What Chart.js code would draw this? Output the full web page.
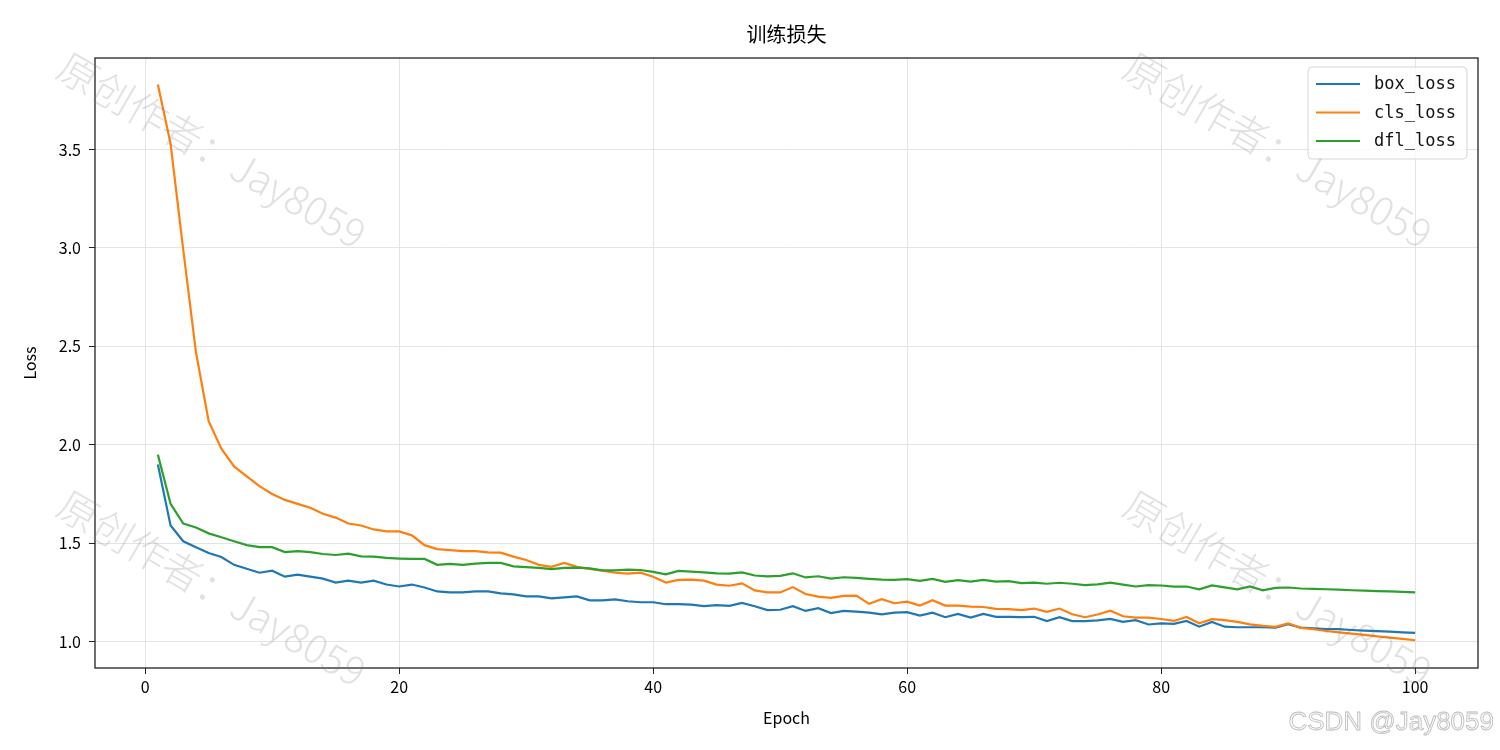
<!DOCTYPE html>
<html>
<head>
<meta charset="utf-8">
<script src="https://cdn.jsdelivr.net/npm/chart.js@4.4.1/dist/chart.umd.min.js"></script>
<style>
  body { margin: 0; background: #fff; }
  #wrap { width: 1500px; height: 750px; }
</style>
</head>
<body>
<div id="wrap"><canvas id="chart" width="1500" height="750"></canvas></div>
<script>
// epochs 1..100
const epochs = Array.from({ length: 100 }, (_, i) => i + 1);

const seriesNames = ['box_loss', 'cls_loss', 'dfl_loss'];
const seriesColors = ['#1f77b4', '#ff7f0e', '#2ca02c'];

const boxLoss = [
    1.90, 1.59, 1.51, 1.48, 1.45, 1.43, 1.39, 1.37, 1.35, 1.36,
    1.33, 1.34, 1.33, 1.32, 1.30, 1.31, 1.30, 1.31, 1.29, 1.28,
    1.29, 1.275, 1.255, 1.25, 1.25, 1.255, 1.255, 1.245, 1.24, 1.23,
    1.23, 1.22, 1.225, 1.23, 1.21, 1.21, 1.215, 1.205, 1.20, 1.20,
    1.19, 1.19, 1.188, 1.18, 1.185, 1.182, 1.197, 1.18, 1.16, 1.162,
    1.18, 1.156, 1.17, 1.145, 1.156, 1.152, 1.147, 1.138, 1.147, 1.15,
    1.132, 1.147, 1.124, 1.141, 1.122, 1.141, 1.126, 1.126, 1.124, 1.126,
    1.104, 1.124, 1.104, 1.104, 1.108, 1.115, 1.10, 1.109, 1.087, 1.093,
    1.090, 1.105, 1.076, 1.100, 1.076, 1.073, 1.073, 1.073, 1.071, 1.088,
    1.071, 1.068, 1.064, 1.063, 1.059, 1.056, 1.053, 1.051, 1.047, 1.044
];
const clsLoss = [
    3.83, 3.53, 2.99, 2.47, 2.12, 1.98, 1.89, 1.84, 1.79, 1.75,
    1.72, 1.70, 1.68, 1.65, 1.63, 1.60, 1.59, 1.57, 1.56, 1.56,
    1.54, 1.49, 1.47, 1.465, 1.46, 1.46, 1.453, 1.452, 1.432, 1.415,
    1.39, 1.38, 1.40, 1.38, 1.37, 1.36, 1.35, 1.345, 1.35, 1.33,
    1.30, 1.314, 1.315, 1.31, 1.29, 1.284, 1.296, 1.26, 1.25, 1.25,
    1.277, 1.242, 1.229, 1.222, 1.232, 1.234, 1.192, 1.216, 1.195, 1.203,
    1.183, 1.210, 1.183, 1.183, 1.178, 1.176, 1.166, 1.165, 1.160, 1.168,
    1.151, 1.168, 1.139, 1.124, 1.138, 1.157, 1.129, 1.122, 1.122, 1.115,
    1.105, 1.125, 1.093, 1.114, 1.109, 1.100, 1.088, 1.080, 1.075, 1.093,
    1.070, 1.063, 1.054, 1.047, 1.041, 1.034, 1.027, 1.020, 1.014, 1.007
];
const dflLoss = [
    1.95, 1.70, 1.60, 1.58, 1.55, 1.53, 1.51, 1.49, 1.48, 1.48,
    1.455, 1.46, 1.455, 1.445, 1.44, 1.447, 1.433, 1.432, 1.425, 1.422,
    1.42, 1.42, 1.39, 1.395, 1.39, 1.396, 1.40, 1.40, 1.382, 1.378,
    1.375, 1.368, 1.375, 1.376, 1.372, 1.362, 1.362, 1.366, 1.364, 1.354,
    1.342, 1.359, 1.356, 1.352, 1.347, 1.345, 1.352, 1.336, 1.331, 1.334,
    1.347, 1.326, 1.332, 1.32, 1.327, 1.324, 1.319, 1.315, 1.314, 1.317,
    1.309, 1.319, 1.304, 1.312, 1.305, 1.314, 1.305, 1.307, 1.297, 1.300,
    1.294, 1.299, 1.294, 1.287, 1.291, 1.300, 1.290, 1.280, 1.287, 1.285,
    1.279, 1.280, 1.266, 1.286, 1.276, 1.266, 1.280, 1.261, 1.273, 1.275,
    1.270, 1.268, 1.266, 1.264, 1.261, 1.259, 1.257, 1.255, 1.253, 1.250
];

const xTicks = [0, 20, 40, 60, 80, 100];
const yTicks = [1.0, 1.5, 2.0, 2.5, 3.0, 3.5];

const CJK = '"Noto Sans CJK SC", "Noto Sans", sans-serif';
const MONO = '"DejaVu Sans Mono", monospace';

const toPoints = (values) => epochs.map((e, i) => ({ x: e, y: values[i] }));
const allSeries = [boxLoss, clsLoss, dflLoss];

const datasets = allSeries.map((values, i) => ({
    label: seriesNames[i],
    data: toPoints(values),
    borderColor: seriesColors[i],
    backgroundColor: seriesColors[i],
    borderWidth: 2.2,
    pointRadius: 0,
    tension: 0,
    order: allSeries.length - i,  // later series on top, like matplotlib
}));

// full black frame around the axes
const framePlugin = {
    id: 'frame',
    afterDatasetsDraw(chart) {
        const { ctx, chartArea: a } = chart;
        ctx.save();
        ctx.strokeStyle = '#222';
        ctx.lineWidth = 1.3;
        ctx.strokeRect(a.left, a.top, a.right - a.left, a.bottom - a.top);
        ctx.restore();
    }
};

// matplotlib-like legend box in the upper right corner
const legendBoxPlugin = {
    id: 'legendBox',
    afterDraw(chart) {
        const { ctx, chartArea: a } = chart;
        const w = 159, h = 92;
        const x = a.right - 11 - w, y = a.top + 9;
        ctx.save();
        ctx.beginPath();
        ctx.roundRect(x, y, w, h, 4);
        ctx.fillStyle = 'rgba(255,255,255,0.8)';
        ctx.fill();
        ctx.strokeStyle = '#d6d6d6';
        ctx.lineWidth = 1;
        ctx.stroke();
        ctx.font = `17px ${MONO}`;
        ctx.textBaseline = 'middle';
        ctx.fillStyle = '#111';
        chart.data.datasets.forEach((ds, i) => {
            const ly = y + 17 + i * 28.5;
            ctx.strokeStyle = ds.borderColor;
            ctx.lineWidth = 2.2;
            ctx.beginPath();
            ctx.moveTo(x + 8, ly);
            ctx.lineTo(x + 52, ly);
            ctx.stroke();
            ctx.fillText(ds.label, x + 66, ly + 1);
        });
        ctx.restore();
    }
};

// watermarks
const watermarkPlugin = {
    id: 'watermark',
    afterDraw(chart) {
        const { ctx } = chart;
        ctx.save();
        ctx.fillStyle = 'rgba(120,120,120,0.22)';
        ctx.font = `300 40px ${CJK}`;
        ctx.textAlign = 'center';
        ctx.textBaseline = 'middle';
        [[212, 150], [1278, 150], [212, 588], [1278, 588]].forEach(([cx, cy]) => {
            ctx.save();
            ctx.translate(cx, cy);
            ctx.rotate(30 * Math.PI / 180);
            ctx.fillText('原创作者：Jay8059', 0, 0);
            ctx.restore();
        });
        ctx.font = '26px "Liberation Sans", Arial, sans-serif';
        ctx.textAlign = 'right';
        ctx.fillStyle = 'rgba(250,250,250,0.95)';
        ctx.strokeStyle = 'rgba(175,175,175,0.85)';
        ctx.lineWidth = 0.8;
        ctx.fillText('CSDN @Jay8059', 1494, 723);
        ctx.strokeText('CSDN @Jay8059', 1494, 723);
        ctx.restore();
    }
};

new Chart(document.getElementById('chart'), {
    type: 'line',
    data: { datasets },
    options: {
        responsive: false,
        animation: false,
        devicePixelRatio: 1,
        layout: { padding: { left: 0, right: 22, top: 0, bottom: 0 } },
        plugins: {
            legend: { display: false },
            tooltip: { enabled: false },
            title: {
                display: true,
                text: '训练损失',
                color: '#000',
                font: { family: CJK, size: 20, weight: 'normal' },
                padding: { top: 22, bottom: 12 },
                fullSize: false,
            },
        },
        scales: {
            x: {
                type: 'linear',
                min: -3.95,
                max: 104.95,
                afterBuildTicks: (s) => { s.ticks = xTicks.map(v => ({ value: v })); },
                afterFit: (s) => { s.height = 82; },
                ticks: {
                    color: '#000',
                    font: { family: CJK, size: 16 },
                    padding: 3,
                    maxRotation: 0,
                    callback: (v) => String(v),
                },
                grid: { color: '#e4e4e4', lineWidth: 1, tickColor: '#222', tickLength: 6 },
                border: { display: false },
                title: {
                    display: true,
                    text: 'Epoch',
                    color: '#000',
                    font: { family: CJK, size: 16 },
                    padding: { top: 4, bottom: 22 },
                },
            },
            y: {
                type: 'linear',
                min: 0.866,
                max: 3.965,
                afterBuildTicks: (s) => { s.ticks = yTicks.map(v => ({ value: v })); },
                afterFit: (s) => { s.width = 95; },
                ticks: {
                    color: '#000',
                    font: { family: CJK, size: 16 },
                    padding: 8,
                    callback: (v) => Number(v).toFixed(1),
                },
                grid: { color: '#e4e4e4', lineWidth: 1, tickColor: '#222', tickLength: 6 },
                border: { display: false },
                title: {
                    display: true,
                    text: 'Loss',
                    color: '#000',
                    font: { family: CJK, size: 16 },
                    padding: { top: 20, bottom: 0 },
                },
            },
        },
    },
    plugins: [framePlugin, legendBoxPlugin, watermarkPlugin],
});
</script>
</body>
</html>
